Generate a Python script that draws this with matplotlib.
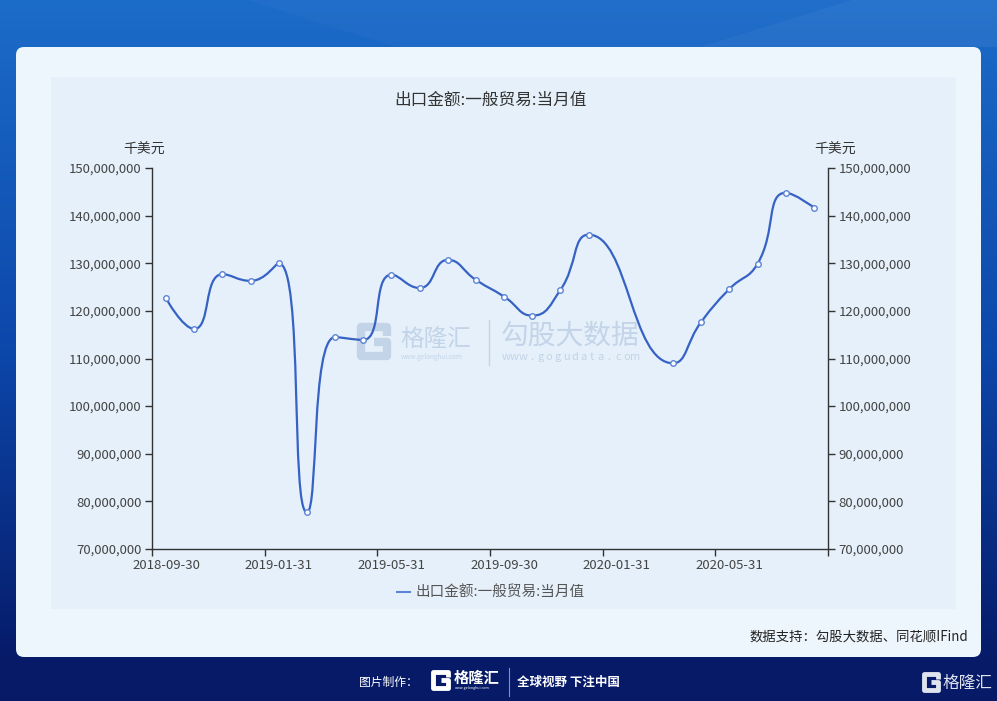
import numpy as np
import matplotlib
matplotlib.use('Agg')
from matplotlib import pyplot as plt
from matplotlib.path import Path
from matplotlib.patches import PathPatch, FancyBboxPatch, Rectangle, Polygon
from matplotlib.lines import Line2D
from matplotlib.ticker import FuncFormatter, FixedLocator

plt.rcParams['font.family'] = ['Noto Sans CJK SC', 'DejaVu Sans']

# ---- data (千美元) ----
months = ['2018-09-30', '2018-10-31', '2018-11-30', '2018-12-31',
          '2019-01-31', '2019-02-28', '2019-03-31', '2019-04-30',
          '2019-05-31', '2019-06-30', '2019-07-31', '2019-08-31',
          '2019-09-30', '2019-10-31', '2019-11-30', '2019-12-31',
          '2020-01-31', '2020-02-29', '2020-03-31', '2020-04-30',
          '2020-05-31', '2020-06-30', '2020-07-31', '2020-08-31']
# millions of thousand-USD, None = no monthly value published
values_m = [122.6, 116.2, 127.7, 126.3,
            130.0, 77.7, 114.5, 113.9,
            127.6, 124.8, 130.7, 126.5,
            123.0, 119.0, 124.4, 136.0,
            None, None, 109.0, 117.7,
            124.6, 129.9, 144.8, 141.7]
tick_labels = months[::4]
series_name = '出口金额:一般贸易:当月值'
y_ticks = [70e6, 80e6, 90e6, 100e6, 110e6, 120e6, 130e6, 140e6, 150e6]

W, H = 997, 701
line_c = '#3662c4'

fig = plt.figure(figsize=(W / 100, H / 100), dpi=100)

# ---- background / decoration layer in pixel coords ----
bg = fig.add_axes([0, 0, 1, 1], zorder=-1)
bg.set_xlim(0, W)
bg.set_ylim(H, 0)
bg.axis('off')

top = np.array([0x1c, 0x6c, 0xc9]) / 255
mid = np.array([0x0c, 0x47, 0xaa]) / 255
bot = np.array([0x06, 0x1a, 0x68]) / 255
t = np.linspace(0, 1, 300)[:, None]
grad = np.where(t < 0.5, top + (mid - top) * (t / 0.5), mid + (bot - mid) * ((t - 0.5) / 0.45))
grad = np.clip(np.where(t > 0.95, bot, grad), 0, 1)
bg.imshow(grad[:, None, :], extent=(0, W, H, 0), aspect='auto', zorder=0)
bg.add_patch(Polygon([(852, 0), (W, 0), (W, 47), (700, 47)], closed=True,
                     fc='white', alpha=0.06, ec='none', zorder=1))
bg.add_patch(Polygon([(248, 0), (852, 0), (700, 47), (395, 47)], closed=True,
                     fc='white', alpha=0.025, ec='none', zorder=1))
bg.add_patch(Rectangle((0, 657), W, H - 657, fc='#061a68', ec='none', zorder=1))

# white panel + inner chart area
bg.add_patch(FancyBboxPatch((24, 55), 949, 594, boxstyle='round,pad=8',
                            fc='#eef6fd', ec='none', zorder=2))
bg.add_patch(Rectangle((51, 77), 905, 532, fc='#e5f0fa', ec='none', zorder=3))


def g_logo(x0, y0, w, h, color, lw):
    pts = [(x0 + w, y0 + 0.3 * h), (x0 + w, y0), (x0, y0), (x0, y0 + h),
           (x0 + w, y0 + h), (x0 + w, y0 + 0.5 * h), (x0 + 0.5 * w, y0 + 0.5 * h)]
    xs, ys = zip(*pts)
    bg.plot(xs, ys, color=color, lw=lw, solid_joinstyle='round',
            solid_capstyle='butt', zorder=4)


# watermark
wm = '#c3d4e8'
g_logo(361, 327, 26, 29, wm, 6)
bg.text(400, 339, '格隆汇', fontsize=17, color=wm, va='center', ha='left', zorder=4)
bg.text(401, 357, 'www.gelonghui.com', fontsize=4.6, color=wm, va='center', ha='left', zorder=4)
bg.plot([489, 489], [320, 365], color=wm, lw=1, zorder=4)
bg.text(501, 336, '勾股大数据', fontsize=20, color=wm, va='center', ha='left', zorder=4)
for i, ch in enumerate('www.gogudata.com'):
    bg.text(506 + i * 8.6, 357, ch, fontsize=8, color=wm, va='center', ha='center', zorder=4)

# titles and notes
bg.text(490, 100, series_name, fontsize=12, color='#333333', ha='center', va='center', zorder=5)
bg.text(144, 150, '千美元', fontsize=10, color='#333333', ha='center', va='center', zorder=5)
bg.text(835, 150, '千美元', fontsize=10, color='#333333', ha='center', va='center', zorder=5)
bg.text(968, 637, '数据支持：勾股大数据、同花顺IFind', fontsize=9.6, color='#222222',
        ha='right', va='center', zorder=5)

# footer
bg.text(359, 682, '图片制作：', fontsize=8.5, color='white', ha='left', va='center', zorder=5)
g_logo(433, 672, 15, 16, 'white', 3.5)
bg.text(454, 678, '格隆汇', fontsize=11, color='white', fontweight='bold', ha='left', va='center', zorder=5)
bg.text(455, 688, 'www.gelonghui.com', fontsize=2.6, color='white', ha='left', va='center', zorder=5)
bg.plot([509, 509], [668, 696], color='#8090c0', lw=0.8, zorder=5)
bg.text(517, 682, '全球视野 下注中国', fontsize=9, color='white', fontweight='bold',
        ha='left', va='center', zorder=5)
g_logo(924, 674, 14, 16, '#dfe3ee', 3.5)
bg.text(943, 683, '格隆汇', fontsize=12, color='#dfe3ee', ha='left', va='center', zorder=5)

# ---- chart ----
ax = fig.add_axes([152 / W, 1 - 549 / H, (828 - 152) / W, (549 - 168) / H])
ax.set_facecolor('none')
ax.set_xlim(-0.5, len(months) - 0.5)
ax.set_ylim(70e6, 150e6)

for s in ['left', 'right', 'bottom']:
    ax.spines[s].set_color('#333333')
    ax.spines[s].set_linewidth(1)
ax.spines['top'].set_visible(False)

ax.yaxis.set_major_locator(FixedLocator(y_ticks))
ax.yaxis.set_major_formatter(FuncFormatter(lambda v, p: f'{int(v):,}'))
ax.yaxis.set_ticks_position('both')
ax.tick_params(axis='y', which='major', direction='out', length=5, width=1,
               color='#333333', labelcolor='#444444', labelsize=9.5,
               labelleft=True, labelright=True, pad=2.5)

ax.xaxis.set_major_locator(FixedLocator(np.arange(-0.5, len(months), 4)))
ax.xaxis.set_major_formatter(FuncFormatter(lambda v, p: ''))
ax.xaxis.set_minor_locator(FixedLocator(np.arange(0, len(months), 4)))
ax.xaxis.set_minor_formatter(FuncFormatter(lambda v, p: tick_labels[int(round(v)) // 4]))
ax.tick_params(axis='x', which='major', direction='out', length=5, width=1, color='#333333')
ax.tick_params(axis='x', which='minor', length=0, labelcolor='#444444', labelsize=9.5, pad=7.5)

xs = np.array([i for i, v in enumerate(values_m) if v is not None], dtype=float)
ys = np.array([v for v in values_m if v is not None]) * 1e6


def smooth_path(ax, xs, ys, smooth=0.5):
    # bezier smoothing with extreme-value constraint, done in pixel space
    pts = ax.transData.transform(np.column_stack([xs, ys]))
    n = len(pts)
    verts, codes = [pts[0]], [Path.MOVETO]
    cp0 = pts[0].copy()
    for k in range(1, n):
        p = pts[k]
        prev = pts[k - 1]
        if k == n - 1:
            cp1 = p.copy()
            nxt_cp0 = p.copy()
        else:
            nxt = pts[k + 1]
            v = nxt - prev
            l0 = np.hypot(*(p - prev))
            l1 = np.hypot(*(nxt - p))
            r = l1 / (l0 + l1)
            nxt_cp0 = p + v * smooth * r
            nxt_cp0 = np.minimum(nxt_cp0, np.maximum(nxt, p))
            nxt_cp0 = np.maximum(nxt_cp0, np.minimum(nxt, p))
            v = nxt_cp0 - p
            cp1 = p - v * l0 / l1
            cp1 = np.minimum(cp1, np.maximum(prev, p))
            cp1 = np.maximum(cp1, np.minimum(prev, p))
            v = p - cp1
            nxt_cp0 = p + v * l1 / l0
        verts += [cp0, cp1, p]
        codes += [Path.CURVE4] * 3
        cp0 = nxt_cp0
    verts = ax.transData.inverted().transform(np.array(verts))
    return Path(verts, codes)


ax.add_patch(PathPatch(smooth_path(ax, xs, ys), fc='none', ec=line_c, lw=1.6, zorder=3))
ax.plot(xs, ys, 'o', ms=4, mfc='white', mec='#5b84d6', mew=1, zorder=4)

handle = Line2D([], [], color='#5b84d6', lw=1.5)
ax.legend([handle], [series_name], loc='center', bbox_to_anchor=(491 / W, 1 - 593 / H),
          bbox_transform=fig.transFigure, frameon=False, fontsize=10.5,
          handlelength=0.9, handletextpad=0.4, labelcolor='#555555')

fig.savefig('out.png', dpi=100)
